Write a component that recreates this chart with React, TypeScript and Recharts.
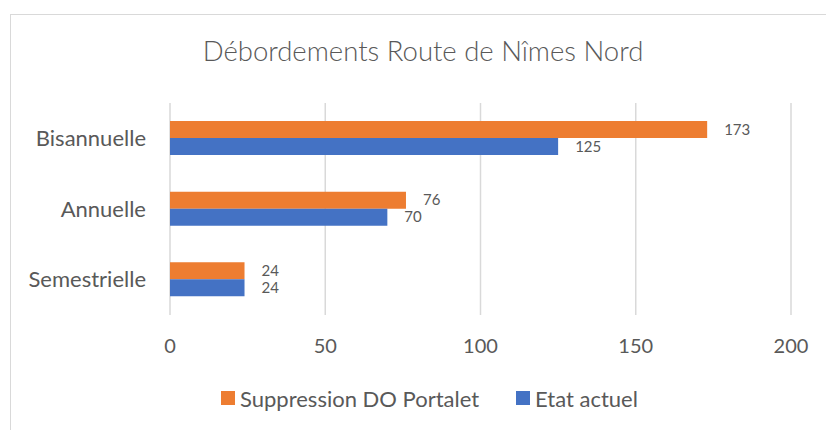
import React from 'react';
import { BarChart, Bar, XAxis, YAxis, CartesianGrid, Legend, LabelList } from 'recharts';

const categories = ['Bisannuelle', 'Annuelle', 'Semestrielle'];
const suppressionDO = [173, 76, 24];
const etatActuel = [125, 70, 24];
const xTicks = [0, 50, 100, 150, 200];

const SERIES = [
  { key: 'suppression', name: 'Suppression DO Portalet', color: '#ED7D31' },
  { key: 'etat', name: 'Etat actuel', color: '#4472C4' },
];

const data = categories.map((name, i) => ({
  name,
  suppression: suppressionDO[i],
  etat: etatActuel[i],
}));

const FONT = 'Lato, "Noto Sans", sans-serif';
const TEXT = '#595959';

const renderLegend = () => (
  <div
    style={{
      display: 'flex',
      justifyContent: 'center',
      alignItems: 'center',
      height: 30,
      paddingLeft: 68,
      fontFamily: FONT,
      fontSize: 22,
      color: TEXT,
    }}
  >
    {SERIES.map((s, i) => (
      <div key={s.key} style={{ display: 'flex', alignItems: 'center', marginLeft: i === 0 ? 0 : 37 }}>
        <span style={{ display: 'inline-block', width: 14, height: 14, background: s.color, marginRight: 5 }} />
        <span>{s.name}</span>
      </div>
    ))}
  </div>
);

const App: React.FC = () => {
  return (
    <div style={{ position: 'absolute', left: 0, top: 0, width: 826, height: 430, overflow: 'hidden', background: '#fff' }}>
      <div
        style={{
          position: 'absolute',
          left: 10,
          top: 14,
          width: 900,
          height: 500,
          borderTop: '1.5px solid #d9d9d9',
          borderLeft: '1.5px solid #d9d9d9',
        }}
      />
      <div
        style={{
          position: 'absolute',
          left: 0,
          top: 34,
          width: 846,
          textAlign: 'center',
          fontFamily: FONT,
          fontWeight: 300,
          fontSize: 27.5,
          lineHeight: '34px',
          color: TEXT,
        }}
      >
        Débordements Route de Nîmes Nord
      </div>
      <div style={{ position: 'absolute', left: 0, top: 0 }}>
        <BarChart
          width={826}
          height={430}
          data={data}
          layout="vertical"
          margin={{ top: 103, right: 35, bottom: 17, left: 0 }}
          barSize={17}
          barGap={0}
        >
          <CartesianGrid horizontal={false} stroke="#d9d9d9" strokeWidth={1.5} />
          <XAxis
            type="number"
            domain={[0, 200]}
            ticks={xTicks}
            axisLine={false}
            tickLine={false}
            tickSize={0}
            tickMargin={24}
            height={68}
            tick={{ fill: TEXT, fontSize: 20, fontFamily: FONT }}
          />
          <YAxis
            type="category"
            dataKey="name"
            width={170}
            axisLine={false}
            tickLine={false}
            tickSize={0}
            tickMargin={24}
            tick={{ fill: TEXT, fontSize: 22, fontFamily: FONT }}
          />
          <Legend verticalAlign="bottom" height={30} content={renderLegend} />
          {SERIES.map((s) => (
            <Bar key={s.key} dataKey={s.key} name={s.name} fill={s.color} isAnimationActive={false}>
              <LabelList
                dataKey={s.key}
                position="right"
                offset={17}
                style={{ fill: TEXT, fontSize: 15, fontFamily: FONT }}
              />
            </Bar>
          ))}
        </BarChart>
      </div>
    </div>
  );
};

export default App;
